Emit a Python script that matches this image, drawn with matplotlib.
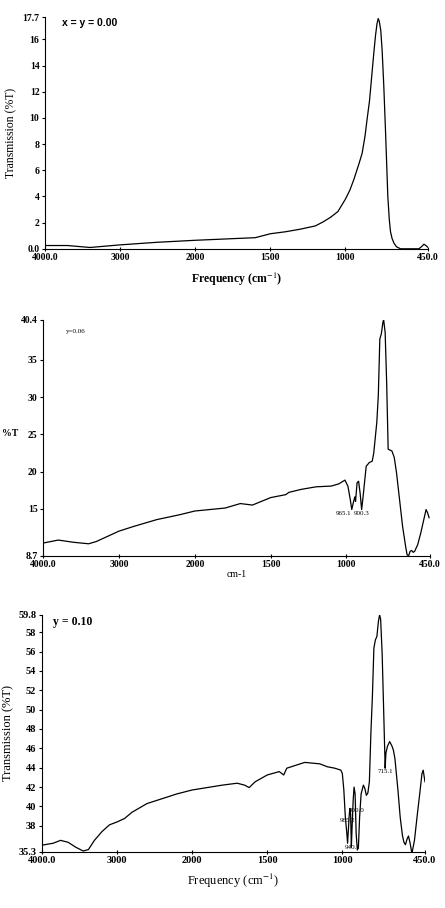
import numpy as np
import matplotlib
matplotlib.use('Agg')
from matplotlib import pyplot as plt

plt.rcParams['mathtext.fontset'] = 'stix'

# spectrum 1 : x = y = 0.00
wn1 = [4000, 3700, 3500, 3400, 3000, 2500, 2000, 1700, 1600, 1500, 1400, 1300, 1200, 1150,
       1100, 1050, 1000, 970, 944, 910, 889, 870, 856, 840, 829, 811, 800, 790, 782, 775,
       765, 756, 745, 733, 718, 708, 700, 690, 678, 660, 633, 560, 511, 490, 478, 465, 450]
t1 = [0.25, 0.25, 0.15, 0.1, 0.3, 0.5, 0.65, 0.8, 0.85, 1.15, 1.3, 1.5, 1.75, 2.05,
      2.4, 2.85, 3.8, 4.5, 5.3, 6.5, 7.3, 8.6, 9.9, 11.3, 12.7, 15.0, 16.3, 17.2, 17.6, 17.4,
      16.7, 15.2, 12.5, 8.9, 4.0, 2.2, 1.3, 0.8, 0.45, 0.15, 0.0, 0.0, 0.0, 0.2, 0.35, 0.25, 0.1]

# spectrum 2 : y = 0.06
wn2 = [4000, 3800, 3600, 3400, 3300, 3000, 2800, 2500, 2200, 2000, 1800, 1700, 1620, 1500,
       1400, 1380, 1300, 1200, 1100, 1050, 1010, 990, 975, 965, 955, 945, 940, 930, 920, 910,
       900, 890, 870, 850, 830, 820, 800, 790, 780, 770, 760, 755, 745, 735, 725, 715,
       700, 685, 670, 650, 630, 610, 600, 590, 580, 570, 560, 550, 530, 510, 490, 475,
       465, 455]
t2 = [10.4, 10.8, 10.5, 10.3, 10.6, 12.0, 12.65, 13.55, 14.2, 14.7, 15.1, 15.7, 15.5, 16.5,
      16.9, 17.2, 17.6, 17.95, 18.05, 18.35, 18.85, 18.0, 16.25, 14.9, 15.8, 16.6, 16.0, 18.5, 18.7, 17.1,
      14.9, 16.7, 20.7, 21.2, 21.4, 22.5, 26.6, 30.2, 37.8, 38.5, 40.0, 40.4, 38.7, 32.0, 23.0, 22.9,
      22.75, 21.9, 19.85, 16.25, 12.65, 9.95, 8.8, 8.7, 9.3, 9.4, 9.15, 9.3, 10.2, 11.75, 13.55, 14.9,
      14.45, 13.8]

# spectrum 3 : y = 0.10
wn3 = [4000, 3850, 3750, 3650, 3550, 3450, 3380, 3300, 3200, 3100, 3000, 2900, 2800, 2600,
       2400, 2200, 2000, 1900, 1800, 1700, 1650, 1620, 1580, 1500, 1420, 1390, 1370, 1300,
       1250, 1150, 1100, 1050, 1010, 1000, 990, 980, 970, 965, 960, 955, 950, 945, 940, 935,
       928, 922, 915, 908, 900, 893, 885, 875, 860, 850, 840, 830, 820, 810, 800, 790,
       780, 770, 760, 752, 745, 735, 725, 718, 715, 710, 700, 685, 670, 660, 650, 630,
       615, 600, 590, 580, 570, 560, 550, 540, 535, 520, 500, 485, 470, 462, 455, 450]
t3 = [36.0, 36.2, 36.5, 36.3, 35.8, 35.4, 35.55, 36.5, 37.4, 38.1, 38.4, 38.75, 39.4, 40.3,
      40.8, 41.3, 41.7, 41.95, 42.2, 42.4, 42.2, 41.95, 42.55, 43.25, 43.6, 43.25, 43.95, 44.3,
      44.55, 44.4, 44.1, 43.95, 43.75, 43.4, 41.7, 38.9, 37.2, 36.2, 37.55, 38.9, 39.8, 39.25, 35.8, 37.9,
      40.6, 42.0, 41.3, 37.2, 35.5, 35.8, 38.9, 41.3, 42.2, 41.85, 41.15, 41.4, 42.55, 47.55, 51.35, 56.35,
      57.2, 57.55, 59.1, 59.8, 59.3, 55.8, 49.95, 45.8, 43.95, 45.5, 46.2, 46.7, 46.25, 45.8, 44.95, 41.7,
      38.9, 37.0, 36.3, 36.05, 36.6, 36.95, 36.3, 35.4, 35.3, 36.5, 39.3, 41.3, 43.4, 43.75, 43.05, 42.55]

xticks = [4000, 3000, 2000, 1500, 1000, 450]
xticklabels = ['4000.0', '3000', '2000', '1500', '1000', '450.0']
yticks1 = [0, 2, 4, 6, 8, 10, 12, 14, 16, 17.7]
yticklabels1 = ['0.0', '2', '4', '6', '8', '10', '12', '14', '16', '17.7']
yticks2 = [8.7, 15, 20, 25, 30, 35, 40.4]
yticklabels2 = ['8.7', '15', '20', '25', '30', '35', '40.4']
yticks3 = [35.3, 38, 40, 42, 44, 46, 48, 50, 52, 54, 56, 58, 59.8]
yticklabels3 = ['35.3', '38', '40', '42', '44', '46', '48', '50', '52', '54', '56', '58', '59.8']


# IR spectra: scale halves above 2000 cm-1
def fwd(x):
    x = np.asarray(x, dtype=float)
    return np.where(x > 2000, 2000 + (x - 2000) * 0.5, x)


def inv(u):
    u = np.asarray(u, dtype=float)
    return np.where(u > 2000, 2000 + (u - 2000) * 2.0, u)


serif = 'Liberation Serif'
fig = plt.figure(figsize=(4.45, 9.08), dpi=100)


def setup(ax, ylo, yhi, yticks, yticklabels, fs):
    ax.set_xscale('function', functions=(fwd, inv))
    ax.set_xlim(4000, 450)
    ax.set_ylim(ylo, yhi)
    ax.spines['top'].set_visible(False)
    ax.spines['right'].set_visible(False)
    ax.set_xticks(xticks)
    ax.set_xticklabels(xticklabels, family=serif, fontweight='bold', fontsize=fs)
    ax.set_yticks(yticks)
    ax.set_yticklabels(yticklabels, family=serif, fontweight='bold', fontsize=fs)
    ax.minorticks_off()
    ax.tick_params(length=2.5, width=0.8, pad=1.5)
    ax.tick_params(axis='x', direction='inout', length=3)


ax1 = fig.add_axes([0.101, 0.726, 0.861, 0.255])
ax1.plot(wn1, t1, color='k', lw=0.9)
setup(ax1, 0, 17.7, yticks1, yticklabels1, 7)
ax1.set_ylabel('Transmission (%T)', family=serif, fontsize=8.5, labelpad=4)
ax1.set_xlabel('Frequency (cm$^{-1}$)', family=serif, fontweight='bold', fontsize=8.5, labelpad=6)
ax1.text(0.045, 0.995, 'x = y = 0.00', transform=ax1.transAxes, family='Liberation Sans',
         fontweight='bold', fontsize=7.5, va='top')

ax2 = fig.add_axes([0.097, 0.388, 0.869, 0.260])
ax2.plot(wn2, t2, color='k', lw=0.9)
setup(ax2, 8.7, 40.4, yticks2, yticklabels2, 7)
ax2.set_ylabel('%T', family=serif, fontweight='bold', fontsize=7, rotation=0, labelpad=8)
ax2.set_xlabel('cm-1', family=serif, fontsize=7, labelpad=1)
ax2.text(0.06, 0.96, 'y=0.06', transform=ax2.transAxes, family=serif, fontsize=5, va='top')
ax2.text(965, 14.7, '965.1', family=serif, fontsize=5, ha='right', va='top')
ax2.text(900, 14.7, '900.3', family=serif, fontsize=5, ha='center', va='top')

ax3 = fig.add_axes([0.094, 0.0617, 0.861, 0.2613])
ax3.plot(wn3, t3, color='k', lw=0.9)
setup(ax3, 35.3, 59.8, yticks3, yticklabels3, 7.5)
ax3.set_ylabel('Transmission (%T)', family=serif, fontsize=9, labelpad=3)
ax3.set_xlabel('Frequency (cm$^{-1}$)', family=serif, fontsize=9, labelpad=5)
ax3.text(0.03, 0.995, 'y = 0.10', transform=ax3.transAxes, family=serif, fontweight='bold',
         fontsize=8.5, va='top')
ax3.text(965, 38.6, '965.2', family=serif, fontsize=5, ha='center', va='center')
ax3.text(905, 39.6, '900.0', family=serif, fontsize=5, ha='center', va='center')
ax3.text(930, 35.8, '940.1', family=serif, fontsize=5, ha='center', va='center')
ax3.text(715, 43.6, '715.1', family=serif, fontsize=5, ha='center', va='center')

plt.savefig('out.png', dpi=100)
